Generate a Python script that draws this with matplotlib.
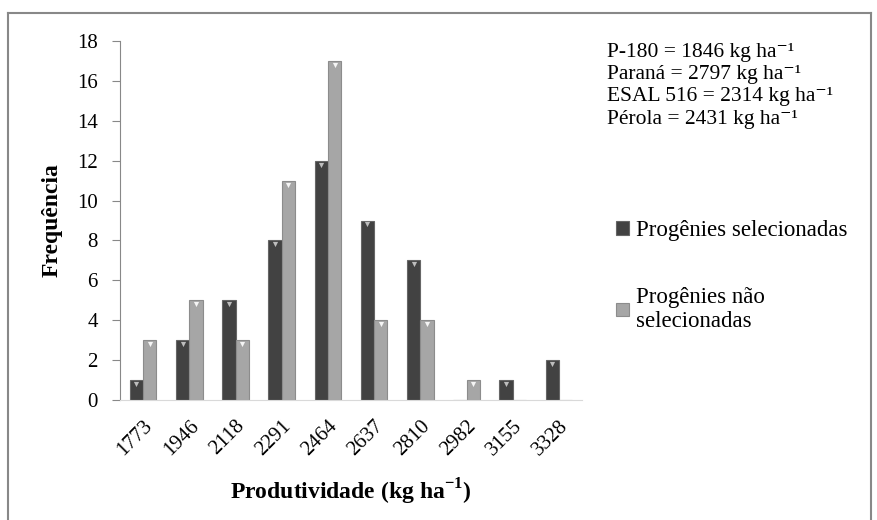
import numpy as np
import matplotlib.pyplot as plt
from matplotlib.lines import Line2D

plt.rcParams['font.family'] = ['Liberation Serif', 'DejaVu Serif']

# classes de produtividade
classes = ['1773', '1946', '2118', '2291', '2464', '2637', '2810', '2982', '3155', '3328']
selecionadas = [1, 3, 5, 8, 12, 9, 7, 0, 1, 2]
nao_selecionadas = [3, 5, 3, 11, 17, 4, 4, 1, 0, 0]

fig = plt.figure(figsize=(8.77, 5.20), dpi=100)
ax = fig.add_axes([120/877, 1 - 400/520, 462/877, 359/520])

x = np.arange(len(classes))
w = 0.29
ax.bar(x - w/2, selecionadas, w, color='#424242', edgecolor='#666666', linewidth=0.8,
       label='Progênies selecionadas')
ax.bar(x + w/2, nao_selecionadas, w, color='#a6a6a6', edgecolor='#8c8c8c', linewidth=0.8,
       label='Progênies não\nselecionadas')

# pequeno triangulo claro no topo das barras
sel = np.array(selecionadas)
nsel = np.array(nao_selecionadas)
ax.scatter((x - w/2)[sel > 0], sel[sel > 0] - 0.2, marker='v', s=14, color='#bdbdbd', zorder=3, linewidths=0)
ax.scatter((x + w/2)[nsel > 0], nsel[nsel > 0] - 0.2, marker='v', s=14, color='#f5f5f5', zorder=3, linewidths=0)

ax.set_xlim(-0.5, len(classes) - 0.5)
ax.set_ylim(0, 18)
ax.set_yticks(np.arange(0, 19, 2))
ax.set_xticks(x)
ax.set_xticklabels(classes, rotation=45, ha='right', rotation_mode='anchor', fontsize=15)
ax.tick_params(axis='y', labelsize=15, length=6, color='#888888', direction='out', pad=10)
ax.tick_params(axis='x', length=0, pad=12)
for s in ['top', 'right']:
    ax.spines[s].set_visible(False)
ax.spines['left'].set_color('#888888')
ax.spines['bottom'].set_color('#d9d9d9')

ax.set_xlabel('Produtividade (kg ha$^{\\mathregular{-1}}$)', fontsize=17, fontweight='bold', labelpad=12)
ax.set_ylabel('Frequência', fontsize=17, fontweight='bold', labelpad=10)

# testemunhas
txt = ['P-180 = 1846 kg ha⁻¹',
       'Paraná = 2797 kg ha⁻¹',
       'ESAL 516 = 2314 kg ha⁻¹',
       'Pérola = 2431 kg ha⁻¹']
for i, t in enumerate(txt):
    fig.text(607/877, 1 - (52 + i*22.5)/520, t, fontsize=15.5, va='center', ha='left')

leg = fig.legend(loc='upper left', bbox_to_anchor=(607/877, 1 - 211/520), frameon=False,
                 fontsize=16.5, handlelength=0.55, handleheight=0.55, handletextpad=0.3,
                 labelspacing=2.0, borderaxespad=0)

# moldura
fig.add_artist(Line2D([8/877, 8/877], [0, 1 - 13/520], transform=fig.transFigure, color='#888888', lw=1.5))
fig.add_artist(Line2D([8/877, 871/877], [1 - 13/520, 1 - 13/520], transform=fig.transFigure, color='#888888', lw=1.5))
fig.add_artist(Line2D([871/877, 871/877], [0, 1 - 13/520], transform=fig.transFigure, color='#888888', lw=1.5))

plt.savefig('out.png', dpi=100)
